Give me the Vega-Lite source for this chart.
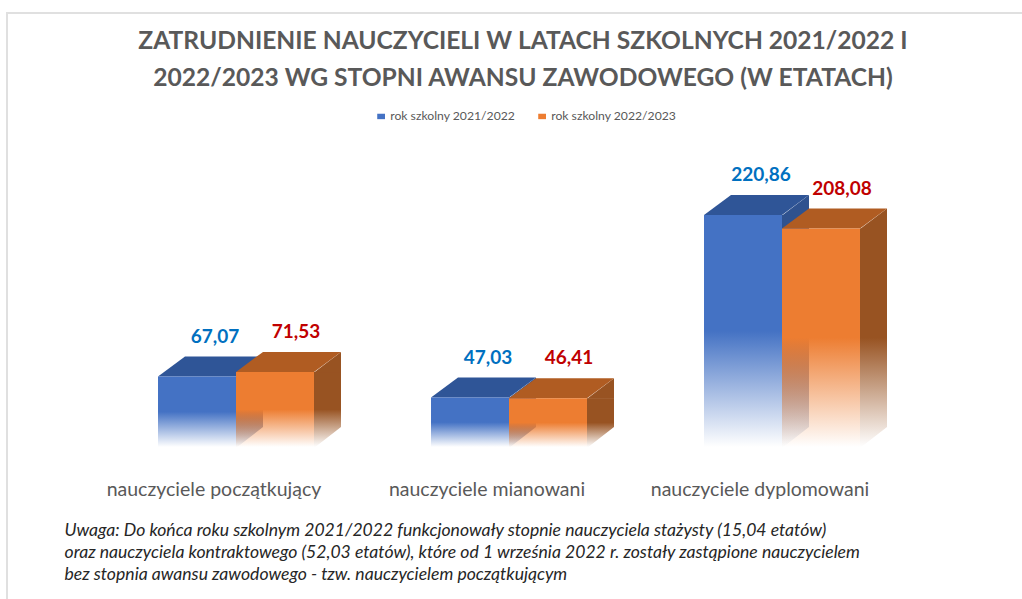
{
  "$schema": "https://vega.github.io/schema/vega-lite/v6.json",
  "width": 1100,
  "height": 620,
  "padding": {"left": 7, "top": 13, "right": 0, "bottom": 0},
  "autosize": {"type": "none"},
  "background": "white",
  "view": {"stroke": "#e0e0e0", "strokeWidth": 2, "fill": null},
  "config": {
    "font": "Lato",
    "locale": {"number": {"decimal": ",", "thousands": " ", "grouping": [3], "currency": ["", " zł"]}}
  },
  "title": {
    "text": ["ZATRUDNIENIE NAUCZYCIELI W LATACH SZKOLNYCH 2021/2022 I", "2022/2023 WG STOPNI AWANSU ZAWODOWEGO (W ETATACH)"],
    "font": "Lato", "fontSize": 24.6, "fontWeight": "bold", "color": "#595959",
    "anchor": "start", "align": "center", "frame": "group", "dx": 516, "dy": 79, "lineHeight": 37, "offset": 0
  },
  "data": {"values": [
    {"kategoria": "nauczyciele początkujący", "rok": "rok szkolny 2021/2022", "etaty": 67.07},
    {"kategoria": "nauczyciele początkujący", "rok": "rok szkolny 2022/2023", "etaty": 71.53},
    {"kategoria": "nauczyciele mianowani", "rok": "rok szkolny 2021/2022", "etaty": 47.03},
    {"kategoria": "nauczyciele mianowani", "rok": "rok szkolny 2022/2023", "etaty": 46.41},
    {"kategoria": "nauczyciele dyplomowani", "rok": "rok szkolny 2021/2022", "etaty": 220.86},
    {"kategoria": "nauczyciele dyplomowani", "rok": "rok szkolny 2022/2023", "etaty": 208.08}
  ]},
  "encoding": {
    "x": {
      "field": "kategoria", "type": "nominal", "sort": null,
      "scale": {"range": [92.5, 911.5], "paddingInner": 0.4286, "paddingOuter": 0.2143},
      "axis": {
        "orient": "bottom", "offset": -186, "domain": false, "ticks": false, "labelAngle": 0,
        "labelFont": "Lato", "labelFontSize": 19.5, "labelColor": "#595959", "labelOffset": -22, "labelPadding": 33, "labelLimit": 0, "labelOverlap": false,
        "title": [
          "Uwaga: Do końca roku szkolnym 2021/2022 funkcjonowały stopnie nauczyciela stażysty (15,04 etatów)",
          "oraz nauczyciela kontraktowego (52,03 etatów), które od 1 września 2022 r. zostały zastąpione nauczycielem",
          "bez stopnia awansu zawodowego - tzw. nauczycielem początkującym"
        ],
        "titleFont": "Lato", "titleFontSize": 17.6, "titleFontStyle": "italic", "titleFontWeight": "normal", "titleColor": "#262626",
        "titleAlign": "left", "titleAnchor": "start", "titleLineHeight": 22, "titleBaseline": "alphabetic", "titleLimit": 0,
        "titleX": 57, "titleY": 88
      }
    },
    "y": {"field": "etaty", "type": "quantitative", "stack": null, "axis": null,
      "scale": {"domain": [0, 400], "range": [434, 14]}}
  },
  "layer": [
    {
      "mark": {"type": "point", "filled": true, "size": 0, "opacity": 1},
      "encoding": {
        "xOffset": {"field": "rok", "type": "nominal", "sort": null},
        "color": {
          "field": "rok", "type": "nominal",
          "scale": {"domain": ["rok szkolny 2021/2022", "rok szkolny 2022/2023"], "range": ["#4472C4", "#ED7D31"]},
          "legend": {
            "title": null, "orient": "none", "direction": "horizontal", "legendX": 368, "legendY": 97,
            "labelFont": "Lato", "labelFontSize": 12.2, "labelColor": "#595959", "symbolType": "M-1,-0.7H1V0.7H-1Z", "symbolSize": 60,
            "columnPadding": 20, "labelOffset": 3
          }
        }
      }
    },
    {
      "mark": {"type": "bar", "width": 27, "xOffset": {"expr": "datum.rok === 'rok szkolny 2021/2022' ? 13.5 : 91.5"}},
      "encoding": {
        "y2": {"datum": 0},
        "fill": {
          "condition": {"test": "datum.rok === 'rok szkolny 2021/2022'",
            "value": {"gradient": "linear", "x1": 0, "y1": 0, "x2": 0, "y2": 1, "stops": [
              {"offset": 0, "color": "rgba(47,82,143,1)"}, {"offset": 0.5, "color": "rgba(47,82,143,1)"}, {"offset": 1, "color": "rgba(47,82,143,0)"}]}},
          "value": {"gradient": "linear", "x1": 0, "y1": 0, "x2": 0, "y2": 1, "stops": [
            {"offset": 0, "color": "rgba(152,83,34,1)"}, {"offset": 0.5, "color": "rgba(152,83,34,1)"}, {"offset": 1, "color": "rgba(152,83,34,0)"}]}
        }
      }
    },
    {
      "mark": {"type": "point", "filled": true, "opacity": 1, "size": 40000, "shape": "M0.39,0.01L0.67,0.01L0.67,-0.2L0.66,-0.2Z", "color": "white"},
      "encoding": {
        "xOffset": {"field": "rok", "type": "nominal", "sort": null},
        "y": {"datum": 0}
      }
    },
    {
      "mark": {"type": "point", "filled": true, "opacity": 1, "size": 40000, "shape": "M0.39,0.005L0.66,-0.2L0.66,0.005Z"},
      "encoding": {
        "xOffset": {"field": "rok", "type": "nominal", "sort": null},
        "fill": {"condition": {"test": "datum.rok === 'rok szkolny 2021/2022'", "value": "#2F528F"}, "value": "#985322"}
      }
    },
    {
      "mark": {"type": "point", "filled": true, "opacity": 1, "size": 40000, "shape": "M-0.39,0L0.39,0L0.66,-0.2L-0.12,-0.2Z"},
      "encoding": {
        "xOffset": {"field": "rok", "type": "nominal", "sort": null},
        "fill": {"condition": {"test": "datum.rok === 'rok szkolny 2021/2022'", "value": "#2F5597"}, "value": "#B05C22"}
      }
    },
    {
      "mark": {"type": "bar"},
      "encoding": {
        "xOffset": {"field": "rok", "type": "nominal", "sort": null},
        "y2": {"datum": 0},
        "fill": {
          "condition": {"test": "datum.rok === 'rok szkolny 2021/2022'",
            "value": {"gradient": "linear", "x1": 0, "y1": 0, "x2": 0, "y2": 1, "stops": [
              {"offset": 0, "color": "rgba(68,114,196,1)"}, {"offset": 0.5, "color": "rgba(68,114,196,1)"}, {"offset": 1, "color": "rgba(68,114,196,0)"}]}},
          "value": {"gradient": "linear", "x1": 0, "y1": 0, "x2": 0, "y2": 1, "stops": [
            {"offset": 0, "color": "rgba(237,125,49,1)"}, {"offset": 0.5, "color": "rgba(237,125,49,1)"}, {"offset": 1, "color": "rgba(237,125,49,0)"}]}
        }
      }
    },
    {
      "mark": {"type": "text", "font": "Lato", "fontWeight": "bold", "fontSize": 19, "dx": {"expr": "datum.rok === 'rok szkolny 2021/2022' ? 18 : 21"}, "dy": -40, "baseline": "middle"},
      "encoding": {
        "xOffset": {"field": "rok", "type": "nominal", "sort": null},
        "text": {"field": "etaty", "type": "quantitative", "format": ".2f"},
        "color": {"condition": {"test": "datum.rok === 'rok szkolny 2021/2022'", "value": "#0070C0"}, "value": "#C00000"}
      }
    }
  ]
}
